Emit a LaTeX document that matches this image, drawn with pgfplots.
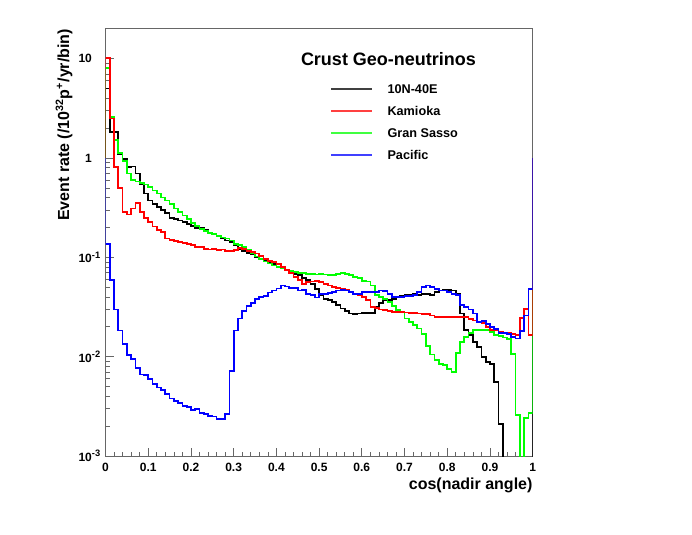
\documentclass[border=0pt]{standalone}
\usepackage{fontspec}
\setmainfont{Liberation Sans}
\usepackage{pgfplots}
\pgfplotsset{compat=1.18}
\usepackage{pgfplotstable}
\pgfplotstableread{
x blk red grn blu
0.00 1 1 1 1
0.00 5.0 10.1 8.0 0.137
0.01 1.84 2.5 2.6 0.059
0.02 1.84 0.81 1.52 0.0298
0.03 1.10 0.50 1.12 0.0183
0.04 0.97 0.285 0.93 0.0134
0.05 0.81 0.27 0.70 0.0104
0.06 0.82 0.31 0.60 0.0095
0.07 0.70 0.35 0.58 0.0077
0.08 0.55 0.285 0.56 0.0066
0.09 0.44 0.250 0.54 0.0065
0.10 0.373 0.226 0.51 0.0060
0.11 0.346 0.205 0.47 0.0053
0.12 0.32 0.19 0.44 0.0049
0.13 0.30 0.18 0.40 0.0046
0.14 0.28 0.155 0.373 0.0042
0.15 0.25 0.150 0.346 0.0038
0.16 0.243 0.145 0.31 0.0036
0.17 0.235 0.142 0.285 0.0034
0.18 0.226 0.140 0.263 0.0032
0.19 0.217 0.137 0.243 0.0031
0.20 0.208 0.133 0.22 0.0029
0.21 0.198 0.127 0.208 0.00295
0.22 0.196 0.127 0.193 0.00272
0.23 0.188 0.122 0.184 0.00264
0.24 0.178 0.120 0.177 0.00254
0.25 0.171 0.122 0.171 0.0025
0.26 0.163 0.118 0.163 0.00237
0.27 0.155 0.120 0.158 0.00235
0.28 0.148 0.116 0.155 0.00266
0.29 0.142 0.116 0.148 0.0072
0.30 0.132 0.119 0.137 0.0183
0.31 0.122 0.125 0.134 0.0242
0.32 0.115 0.122 0.127 0.029
0.33 0.110 0.116 0.118 0.0325
0.34 0.107 0.113 0.110 0.035
0.35 0.101 0.109 0.102 0.038
0.36 0.097 0.104 0.097 0.040
0.37 0.093 0.097 0.091 0.0405
0.38 0.088 0.092 0.0865 0.0442
0.39 0.085 0.090 0.083 0.0465
0.40 0.081 0.085 0.080 0.0485
0.41 0.077 0.080 0.077 0.052
0.42 0.074 0.075 0.074 0.051
0.43 0.071 0.069 0.073 0.049
0.44 0.068 0.063 0.071 0.049
0.45 0.066 0.059 0.070 0.0465
0.46 0.062 0.054 0.069 0.047
0.47 0.059 0.056 0.068 0.043
0.48 0.054 0.057 0.068 0.0415
0.49 0.048 0.058 0.067 0.0395
0.50 0.0415 0.0565 0.068 0.043
0.51 0.0383 0.054 0.067 0.043
0.52 0.037 0.052 0.066 0.0435
0.53 0.0356 0.050 0.066 0.0445
0.54 0.0329 0.049 0.068 0.0465
0.55 0.0305 0.048 0.069 0.047
0.56 0.029 0.047 0.068 0.0465
0.57 0.0272 0.045 0.066 0.0445
0.58 0.027 0.043 0.063 0.043
0.59 0.0272 0.0415 0.062 0.043
0.60 0.0275 0.040 0.058 0.0445
0.61 0.0275 0.037 0.057 0.0445
0.62 0.0275 0.0315 0.052 0.045
0.63 0.0315 0.0307 0.0415 0.045
0.64 0.0347 0.0298 0.040 0.0465
0.65 0.037 0.0294 0.0383 0.0455
0.66 0.0375 0.029 0.0356 0.043
0.67 0.038 0.028 0.0323 0.040
0.68 0.040 0.028 0.0294 0.040
0.69 0.0405 0.028 0.0284 0.040
0.70 0.0415 0.0278 0.0242 0.0405
0.71 0.042 0.0276 0.0224 0.041
0.72 0.043 0.0276 0.0207 0.0415
0.73 0.042 0.0272 0.0192 0.0445
0.74 0.043 0.027 0.0170 0.050
0.75 0.043 0.0268 0.0128 0.052
0.76 0.0415 0.026 0.0105 0.050
0.77 0.0446 0.025 0.0092 0.048
0.78 0.0465 0.025 0.0085 0.0465
0.79 0.047 0.0252 0.0082 0.0465
0.80 0.047 0.025 0.0075 0.045
0.81 0.0465 0.0253 0.0070 0.043
0.82 0.043 0.0252 0.0108 0.0415
0.83 0.0272 0.025 0.0141 0.033
0.84 0.0185 0.025 0.0158 0.0317
0.85 0.0165 0.024 0.0174 0.0298
0.86 0.0141 0.0232 0.0185 0.0272
0.87 0.0125 0.0225 0.0185 0.0224
0.88 0.0100 0.0217 0.0187 0.0228
0.89 0.0089 0.020 0.0185 0.0215
0.90 0.0085 0.0187 0.0178 0.0200
0.91 0.0056 0.0185 0.0165 0.0190
0.92 0.0021 0.0178 0.0162 0.0174
0.93 0.0001 0.0172 0.0156 0.0172
0.94 0.0001 0.0172 0.0150 0.0168
0.95 0.0001 0.0168 0.0106 0.0157
0.96 0.0001 0.0165 0.0026 0.0152
0.97 0.0001 0.0244 0.0001 0.018
0.98 0.0001 0.030 0.0024 0.026
0.99 0.0001 0.0165 0.0027 0.048
1.00 0.0001 0.0165 0.0027 0.048
1.00 1 1 1 1
}\datatable

\begin{document}
\begin{tikzpicture}
\path[use as bounding box] (0pt,0pt) rectangle (519pt,401.25pt);
\begin{axis}[
  at={(79.125pt,59.25pt)}, anchor=south west,
  scale only axis, width=320.4pt, height=320.4pt,
  xmin=0, xmax=1, ymin=0.001, ymax=20,
  ymode=log,
  axis line style={black!60, line width=0.6pt},
  every tick/.style={black!60, line width=0.5pt},
  tick align=inside,
  xtick pos=lower, ytick pos=lower,
  major tick length=6pt, minor tick length=3pt,
  xtick={0,0.1,0.2,0.3,0.4,0.5,0.6,0.7,0.8,0.9,1},
  xticklabels={0,0.1,0.2,0.3,0.4,0.5,0.6,0.7,0.8,0.9,1},
  minor x tick num=4,
  ytick={0.001,0.01,0.1,1,10},
  yticklabels={10\rlap{\raisebox{3.5pt}{\fontsize{7}{8}\selectfont -3}},10\rlap{\raisebox{3.5pt}{\fontsize{7}{8}\selectfont -2}},10\rlap{\raisebox{3.5pt}{\fontsize{7}{8}\selectfont -1}},1,10},
  ticklabel style={font=\bfseries\fontsize{9}{10}\selectfont},
  xticklabel style={inner sep=0pt, yshift=-5pt},
  yticklabel style={inner sep=0pt, xshift=-10pt},
  xlabel={cos(nadir angle)},
  xlabel style={at={(axis description cs:1,0)}, anchor=east, inner sep=0pt, yshift=-21.75pt, font=\bfseries\fontsize{12}{14}\selectfont},
  ylabel={Event rate (/10\textsuperscript{32}p\textsuperscript{+}/yr/bin)},
  ylabel style={at={(axis description cs:-0.097,1)}, anchor=east, inner sep=0pt, font=\bfseries\fontsize{12}{14}\selectfont},
  legend style={draw=none, fill=none, at={(axis description cs:0.5257,0.870)}, anchor=north west,
    inner sep=0pt, font=\bfseries\fontsize{9.5}{11}\selectfont, row sep=9.4pt, column sep=11pt,
    nodes={inner sep=0pt, text height=7pt, text depth=0pt}},
  legend cell align=left,
  legend image code/.code={\draw[#1] (0pt,0pt) -- (30.6pt,0pt);},
]
\addplot[const plot, black, line width=1.3pt, forget plot] table[x=x, y=blk] {\datatable};
\addplot[const plot, green, line width=1.3pt, forget plot] table[x=x, y=grn] {\datatable};
\addplot[const plot, red, line width=1.3pt, forget plot] table[x=x, y=red] {\datatable};
\addplot[const plot, blue, line width=1.3pt, forget plot] table[x=x, y=blu] {\datatable};
\addlegendimage{black!75, line width=1.3pt}
\addlegendentry{10N-40E}
\addlegendimage{red!75, line width=1.3pt}
\addlegendentry{Kamioka}
\addlegendimage{green!75, line width=1.3pt}
\addlegendentry{Gran Sasso}
\addlegendimage{blue!75, line width=1.3pt}
\addlegendentry{Pacific}
\node[anchor=west, inner sep=0pt, font=\bfseries\fontsize{13.5}{15}\selectfont] at (axis description cs:0.457,0.929) {Crust Geo-neutrinos};
\end{axis}
\end{tikzpicture}
\end{document}
